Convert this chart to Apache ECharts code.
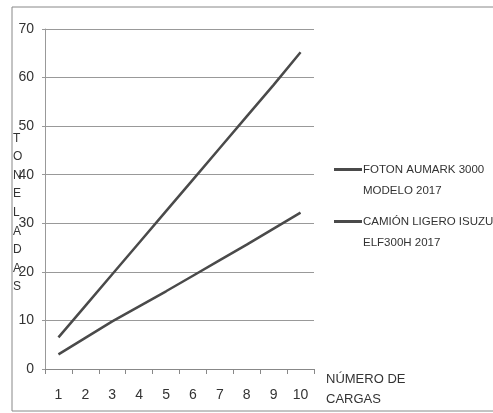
<!DOCTYPE html>
<html>
<head>
<meta charset="utf-8">
<script src="https://cdn.jsdelivr.net/npm/echarts@6/dist/echarts.min.js"></script>
<style>
  html, body { margin: 0; padding: 0; background: #fff; }
  #container { width: 493px; height: 413px; }
</style>
</head>
<body>
<div id="container"></div>
<script>
var cargas = ['1', '2', '3', '4', '5', '6', '7', '8', '9', '10'];
var foton = [6.5, 13, 19.5, 26, 32.5, 39, 45.5, 52, 58.5, 65.2];
var isuzu = [3, 6.4, 9.8, 12.9, 16, 19.2, 22.4, 25.6, 28.9, 32.2];
var nombres = ['FOTON AUMARK 3000 MODELO 2017', 'CAMIÓN LIGERO ISUZU ELF300H 2017'];
var leyenda = {
    'FOTON AUMARK 3000 MODELO 2017': ' \nFOTON AUMARK 3000\nMODELO 2017',
    'CAMIÓN LIGERO ISUZU ELF300H 2017': ' \nCAMIÓN LIGERO ISUZU\nELF300H 2017'
};

var fuente = '"Liberation Sans", sans-serif';
var dom = document.getElementById("container");
var myChart = echarts.init(dom);

var option = {
    animation: false,
    backgroundColor: '#fff',
    textStyle: { fontFamily: fuente },
    grid: { left: 45, right: 179, top: 29, bottom: 44 },
    legend: {
        orient: 'vertical',
        left: 329,
        top: 133,
        itemWidth: 28,
        itemHeight: 3,
        itemGap: -11,
        icon: 'rect',
        data: nombres,
        formatter: function (n) { return leyenda[n]; },
        textStyle: {
            fontFamily: fuente, fontSize: 11.5, color: '#333',
            lineHeight: 21, padding: [0, 0, 0, -4]
        }
    },
    graphic: [
        {
            type: 'rect',
            shape: { x: 12, y: 7, width: 490, height: 404 },
            style: { fill: 'none', stroke: '#888', lineWidth: 1 },
            silent: true
        },
        {
            type: 'text',
            left: 13,
            top: 129,
            style: {
                text: 'T\nO\nN\nE\nL\nA\nD\nA\nS',
                font: '12px ' + fuente,
                lineHeight: 18.6,
                fill: '#333'
            }
        }
    ],
    xAxis: {
        type: 'category',
        data: cargas,
        boundaryGap: true,
        name: 'NÚMERO DE\nCARGAS',
        nameLocation: 'end',
        nameGap: 12,
        nameTextStyle: {
            fontFamily: fuente, fontSize: 13, color: '#333',
            lineHeight: 20, align: 'left', verticalAlign: 'top'
        },
        axisLine: { lineStyle: { color: '#888', width: 1 } },
        axisTick: { show: true, length: 5, lineStyle: { color: '#888' } },
        axisLabel: { color: '#333', fontSize: 14, margin: 19, fontFamily: fuente }
    },
    yAxis: {
        type: 'value',
        min: 0,
        max: 70,
        interval: 10,
        axisLine: { show: true, lineStyle: { color: '#999', width: 1 } },
        axisTick: { show: true, length: 3, lineStyle: { color: '#999' } },
        axisLabel: { color: '#333', fontSize: 14, margin: 11, fontFamily: fuente },
        splitLine: { lineStyle: { color: '#999', width: 1 } }
    },
    series: [
        {
            name: nombres[0],
            type: 'line',
            data: foton,
            showSymbol: false,
            color: '#4a4a4a',
            lineStyle: { width: 2.5, color: '#4a4a4a' }
        },
        {
            name: nombres[1],
            type: 'line',
            data: isuzu,
            showSymbol: false,
            color: '#4a4a4a',
            lineStyle: { width: 2.5, color: '#4a4a4a' }
        }
    ]
};

myChart.setOption(option, true);
</script>
</body>
</html>
